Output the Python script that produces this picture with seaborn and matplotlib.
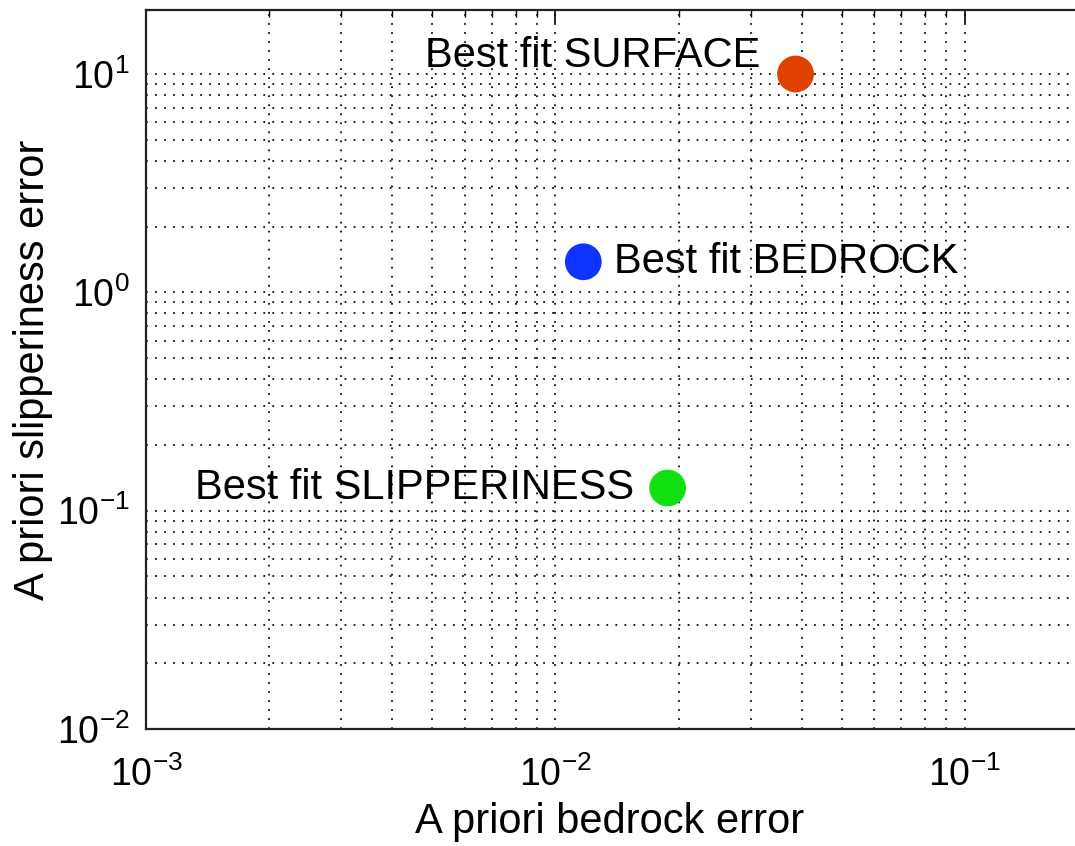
import matplotlib
matplotlib.use("Agg")
import matplotlib.pyplot as plt
import seaborn as sns
import pandas as pd
from matplotlib.ticker import LogLocator, NullFormatter

# data
labels = ["Best fit SURFACE", "Best fit BEDROCK", "Best fit SLIPPERINESS"]
bedrock_err = [0.0386, 0.0117, 0.0188]
slip_err = [10.0, 1.38, 0.127]
colors = ["#E04000", "#1034FF", "#10E010"]

df = pd.DataFrame({"bedrock": bedrock_err, "slip": slip_err, "label": labels})

sns.set_style("white")
plt.rcParams["font.family"] = ["Liberation Sans", "DejaVu Sans"]
plt.rcParams["mathtext.fontset"] = "custom"
plt.rcParams["mathtext.rm"] = "Liberation Sans"
plt.rcParams["mathtext.it"] = "Liberation Sans"
plt.rcParams["text.color"] = "black"
plt.rcParams["axes.labelcolor"] = "black"
plt.rcParams["xtick.color"] = "black"
plt.rcParams["ytick.color"] = "black"

fig = plt.figure(figsize=(10.75, 8.46), dpi=100)
ax = fig.add_axes([146 / 1075, 1 - 729 / 846, 942 / 1075, (729 - 9.7) / 846])

sns.scatterplot(data=df, x="bedrock", y="slip", hue="label", palette=colors,
                s=700, edgecolor="none", legend=False, ax=ax, zorder=3)

ax.set_xscale("log")
ax.set_yscale("log")
ax.set_xlim(1e-3, 0.2)
ax.set_ylim(1e-2, 19.7)

ax.xaxis.set_major_locator(LogLocator(base=10, numticks=10))
ax.yaxis.set_major_locator(LogLocator(base=10, numticks=10))
ax.xaxis.set_minor_locator(LogLocator(base=10, subs=range(2, 10), numticks=20))
ax.yaxis.set_minor_locator(LogLocator(base=10, subs=range(2, 10), numticks=20))
ax.xaxis.set_minor_formatter(NullFormatter())
ax.yaxis.set_minor_formatter(NullFormatter())

ax.grid(True, which="both", color="black", linestyle=(0, (1, 4.2)), linewidth=1.25)
ax.set_axisbelow(True)

for sp in ax.spines.values():
    sp.set_color("#222222")
    sp.set_linewidth(1.6)

ax.tick_params(axis="x", which="major", pad=20)
ax.tick_params(axis="y", which="major", pad=12)
ax.tick_params(which="major", direction="in", length=9, width=1.2, top=True, right=True,
               labelsize=27)
ax.tick_params(which="minor", direction="in", length=5, width=1.0, top=True, right=True)

ax.set_xlabel("A priori bedrock error", fontsize=30)
ax.set_ylabel("A priori slipperiness error", fontsize=30)
ax.xaxis.set_label_coords(0.4926, -0.102)
ax.yaxis.set_label_coords(-0.099, 0.5)

offsets = [(-25, 13), (22, 0), (-24, 0)]
aligns = ["right", "left", "right"]
for lab, x, y, off, ha in zip(labels, bedrock_err, slip_err, offsets, aligns):
    ax.annotate(lab, (x, y), xytext=off, textcoords="offset points",
                ha=ha, va="center", fontsize=30)

fig.savefig("out.png", dpi=100)
